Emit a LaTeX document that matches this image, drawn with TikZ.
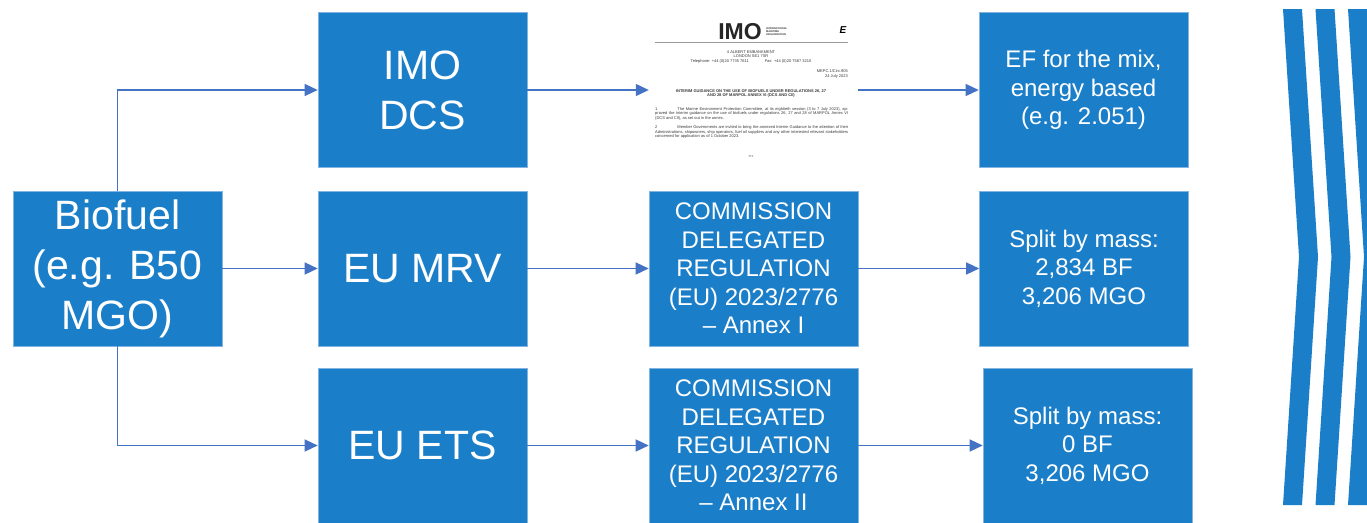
\documentclass[tikz,border=0pt]{standalone}
\usepackage{fontspec}
\setmainfont{Liberation Sans}
\usetikzlibrary{arrows.meta}
\definecolor{boxblue}{RGB}{27,126,200}
\definecolor{boxline}{RGB}{130,180,225}
\definecolor{arrowblue}{RGB}{68,114,196}
\definecolor{doctext}{RGB}{55,55,55}
\tikzset{
  blockbox/.style={fill=boxblue, draw=boxline, line width=0.6pt, text=white,
    minimum width=209pt, minimum height=155pt, inner sep=0pt, align=center},
  bigtext/.style={font=\fontsize{41}{50}\selectfont},
  smalltext/.style={font=\fontsize{24}{28.5}\selectfont},
  flow/.style={draw=arrowblue, line width=1.3pt, -{Triangle[length=13pt,width=12pt]}},
  tiny/.style={font=\fontsize{4}{4.6}\selectfont, text=doctext, inner sep=0pt}
}
\begin{document}
\begin{tikzpicture}[x=1pt,y=-1pt]
\useasboundingbox (0,0) rectangle (1367,522);

\node[blockbox,bigtext] (bio) at (117.5,268.5) {Biofuel\\(e.g. B50\\MGO)};

\node[blockbox,bigtext] (imo) at (422.5,90) {IMO\\DCS};
\node[blockbox,bigtext] (mrv) at (422.5,268.5) {EU MRV};
\node[blockbox,bigtext] (ets) at (422.5,445.5) {EU ETS};

\node[minimum width=209pt, minimum height=155pt, inner sep=0pt] (doc) at (753.5,90) {};
\node[blockbox,smalltext] (com1) at (753.5,268.5) {COMMISSION\\DELEGATED\\REGULATION\\(EU) 2023/2776\\-- Annex I};
\node[blockbox,smalltext] (com2) at (753.5,445.5) {COMMISSION\\DELEGATED\\REGULATION\\(EU) 2023/2776\\-- Annex II};

\node[blockbox,smalltext] (ef) at (1083.5,90) {EF for the mix,\\energy based\\(e.g. 2.051)};
\node[blockbox,smalltext] (split1) at (1084,268.5) {Split by mass:\\2,834 BF\\3,206 MGO};
\node[blockbox,smalltext] (split2) at (1087.5,445.5) {Split by mass:\\0 BF\\3,206 MGO};

% the circular as a small page
\node[font=\bfseries\fontsize{23}{23}\selectfont, text=black!85, inner sep=0pt] (logo) at (740,32) {IMO};
\node[tiny, font=\bfseries\fontsize{2.6}{3}\selectfont, align=left, anchor=west] at (766,32) {INTERNATIONAL\\MARITIME\\ORGANIZATION};
\node[font=\bfseries\itshape\fontsize{10}{10}\selectfont, inner sep=0pt] at (843,30) {E};
\draw[black!40, line width=0.6pt] (655,42) -- (848,42);
\node[tiny, align=center] at (751,57) {4 ALBERT EMBANKMENT\\LONDON SE1 7SR\\Telephone: +44 (0)20 7735 7611\hspace{16pt}Fax: +44 (0)20 7587 3210};
\node[tiny, align=right, anchor=east] at (848,74) {MEPC.1/Circ.905\\24 July 2023};
\node[tiny, font=\bfseries\fontsize{4}{4.8}\selectfont, align=center] at (751,93.5) {INTERIM GUIDANCE ON THE USE OF BIOFUELS UNDER REGULATIONS 26, 27\\AND 28 OF MARPOL ANNEX VI (DCS AND CII)};
\node[tiny, text width=193pt, align=justify, anchor=north west] at (655,107) {1\hspace{20pt}The Marine Environment Protection Committee, at its eightieth session (3 to 7 July 2023), approved the Interim guidance on the use of biofuels under regulations 26, 27 and 28 of MARPOL Annex VI (DCS and CII), as set out in the annex.};
\node[tiny, text width=193pt, align=justify, anchor=north west] at (655,125.5) {2\hspace{20pt}Member Governments are invited to bring the annexed Interim Guidance to the attention of their Administrations, shipowners, ship operators, fuel oil suppliers and any other interested relevant stakeholders concerned for application as of 1 October 2023.};
\node[tiny] at (751,157) {***};

\draw[flow] (bio.north) |- (imo.west);
\draw[flow] (bio.east) -- (mrv.west);
\draw[flow] (bio.south) |- (ets.west);
\draw[flow] (imo.east) -- (doc.west);
\draw[flow] (mrv.east) -- (com1.west);
\draw[flow] (ets.east) -- (com2.west);
\draw[flow] (doc.east) -- (ef.west);
\draw[flow] (com1.east) -- (split1.west);
\draw[flow] (com2.east) -- (split2.west);

% chevrons
\begin{scope}
\clip (0,0) rectangle (1367,522);
\foreach \dx in {0,32.5,65} {
  \fill[boxblue] (1283+\dx,9) -- (1302+\dx,9) -- (1318+\dx,257) -- (1302+\dx,505)
    -- (1283+\dx,505) -- (1299+\dx,257) -- cycle;
}
\end{scope}
\end{tikzpicture}
\end{document}
